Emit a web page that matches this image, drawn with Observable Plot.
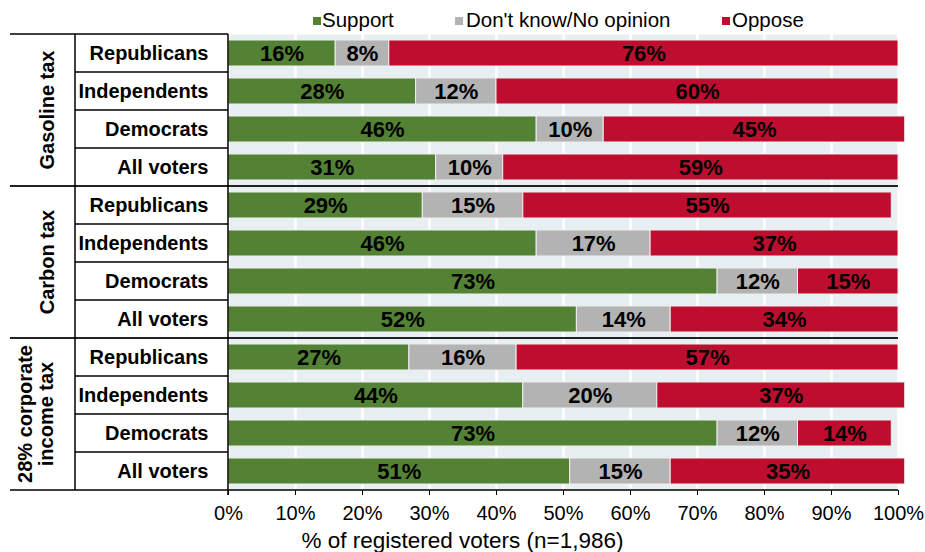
<!DOCTYPE html>
<html>
<head>
<meta charset="utf-8">
<script src="https://cdn.jsdelivr.net/npm/d3@7"></script>
<script src="https://cdn.jsdelivr.net/npm/@observablehq/plot@0.6"></script>
<style>
  html, body { margin: 0; padding: 0; background: #fff; }
  body { width: 925px; height: 552px; overflow: hidden; font-family: "Liberation Sans", Arial, sans-serif; }
  #legend { position: relative; height: 32px; width: 925px; }
  .item { position: absolute; top: 9px; font-size: 20.5px; line-height: 22px; color: #000; white-space: nowrap; }
  .sw { position: absolute; width: 8px; height: 8px; }
  #caption { width: 925px; text-align: center; font-size: 22.5px; line-height: 34px; color: #000; }
  svg { display: block; }
</style>
</head>
<body>
<div id="legend"></div>
<div id="chart"></div>
<div id="caption">% of registered voters (n=1,986)</div>
<script>
const groups = ["Gasoline tax", "Carbon tax", "28% corporate income tax"];
const groupLabelLines = [["Gasoline tax"], ["Carbon tax"], ["28% corporate", "income tax"]];
const parties = ["Republicans", "Independents", "Democrats", "All voters"];
const responses = ["Support", "Don't know/No opinion", "Oppose"];
const colors = ["#548235", "#b3b3b3", "#be0e2f"];
const support  = [16, 28, 46, 31, 29, 46, 73, 52, 27, 44, 73, 51];
const dontKnow = [ 8, 12, 10, 10, 15, 17, 12, 14, 16, 20, 12, 15];
const oppose   = [76, 60, 45, 59, 55, 37, 15, 34, 57, 37, 14, 35];
const xTicks = [0, 10, 20, 30, 40, 50, 60, 70, 80, 90, 100];

const keys = [];
const data = [];
groups.forEach((g, gi) => {
  parties.forEach((p, pi) => {
    const i = gi * parties.length + pi;
    const key = g + "|" + p;
    keys.push(key);
    [support[i], dontKnow[i], oppose[i]].forEach((v, ri) => {
      data.push({group: g, party: p, key, response: responses[ri], value: v});
    });
  });
});

// legend
const legendPos = [[313, 322], [455, 466], [722, 732]];
const legendEl = document.getElementById("legend");
responses.forEach((r, i) => {
  const sw = document.createElement("div");
  sw.className = "sw";
  sw.style.left = legendPos[i][0] + "px";
  sw.style.top = "17px";
  sw.style.background = colors[i];
  legendEl.appendChild(sw);
  const t = document.createElement("div");
  t.className = "item";
  t.style.left = legendPos[i][1] + "px";
  t.textContent = r;
  legendEl.appendChild(t);
});

const font = "'Liberation Sans', Arial, sans-serif";

const plot = Plot.plot({
  width: 925,
  height: 492,
  marginLeft: 228,
  marginRight: 27,
  marginTop: 2,
  marginBottom: 34,
  style: {fontFamily: font, background: "white", color: "black"},
  x: {domain: [0, 100]},
  y: {domain: keys, paddingInner: 0.316, paddingOuter: 0.158},
  color: {domain: responses, range: colors},
  marks: [
    Plot.frame({fill: "#e8eff2", stroke: null}),
    Plot.gridX({ticks: xTicks, stroke: "white", strokeOpacity: 1, strokeWidth: 2.5}),
    Plot.barX(data, Plot.stackX({x: "value", y: "key", fill: "response", stroke: "#eeeeee", strokeWidth: 1})),
    Plot.text(data, Plot.stackX({x: "value", y: "key", text: d => d.value + "%", fill: "black", fontSize: 22, fontWeight: "bold"})),
    Plot.axisX({ticks: xTicks, tickFormat: d => d + "%", tickSize: 5, tickPadding: 10, fontSize: 20, label: null, stroke: "black"}),
    Plot.axisY({tickSize: 0, tickPadding: 20, tickFormat: k => k.split("|")[1], fontSize: 20, fontWeight: "bold", label: null})
  ]
});

document.getElementById("chart").appendChild(plot);

// table lines and group labels, positioned from the plot's own scales
const ys = plot.scale("y");
const xs = plot.scale("x");
const step = ys.step, bw = ys.bandwidth;
const rowTop = k => ys.apply(k) - (step - bw) / 2;
const x0 = xs.apply(0), x100 = xs.apply(100);
const leftX = 10, colX = 75;
const tableTop = rowTop(keys[0]);
const tableBottom = rowTop(keys[keys.length - 1]) + step;

const svg = d3.select(plot);
const g = svg.append("g").attr("stroke", "black").attr("stroke-width", 1.5).attr("fill", "none");
keys.forEach((k, i) => {
  const y = rowTop(k);
  if (i === 0) {
    g.append("line").attr("x1", leftX).attr("x2", x0).attr("y1", y).attr("y2", y);
  } else if (i % parties.length === 0) {
    g.append("line").attr("x1", leftX).attr("x2", x100).attr("y1", y).attr("y2", y).attr("stroke", "#222").attr("stroke-width", 2);
  } else {
    g.append("line").attr("x1", colX).attr("x2", x0).attr("y1", y).attr("y2", y);
  }
});
g.append("line").attr("x1", leftX).attr("x2", x0).attr("y1", tableBottom).attr("y2", tableBottom);
g.append("line").attr("x1", x0).attr("x2", x100).attr("y1", tableBottom).attr("y2", tableBottom);
g.append("line").attr("x1", colX).attr("x2", colX).attr("y1", tableTop).attr("y2", tableBottom);
g.append("line").attr("x1", x0).attr("x2", x0).attr("y1", tableTop).attr("y2", tableBottom + 5);

const lg = svg.append("g").attr("font-family", font).attr("font-size", 20).attr("font-weight", "bold").attr("fill", "black");
groups.forEach((grp, gi) => {
  const first = keys[gi * parties.length];
  const last = keys[gi * parties.length + parties.length - 1];
  const cy = (rowTop(first) + rowTop(last) + step) / 2;
  const lines = groupLabelLines[gi];
  const centers = lines.length === 1 ? [47] : [25, 46];
  lines.forEach((ln, li) => {
    lg.append("text")
      .attr("transform", `translate(${centers[li]},${cy}) rotate(-90)`)
      .attr("text-anchor", "middle")
      .attr("dominant-baseline", "central")
      .text(ln);
  });
});
</script>
</body>
</html>
